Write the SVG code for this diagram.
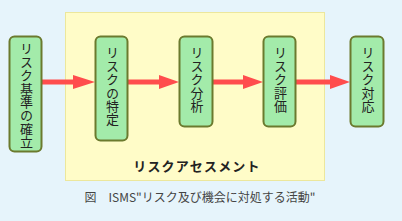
<svg xmlns="http://www.w3.org/2000/svg" width="402" height="221" viewBox="0 0 402 221">
<defs>
<style>
.node rect{fill:#a3ebaa;stroke:#6b7a2e;stroke-width:2}
.node text{font-family:"Noto Sans CJK JP","Noto Sans",sans-serif;font-size:13px;fill:#222;writing-mode:vertical-rl;text-anchor:start;letter-spacing:0.4px}
.conn line{stroke:#ff4d4d;stroke-width:5}
.conn polygon{fill:#ff4d4d}
</style>
</defs>
<rect x="0" y="0" width="402" height="221" fill="#e6f4fb"/>
<g id="assessment">
<rect x="65.5" y="12.5" width="259" height="168" fill="#fffcc8" stroke="#ece79c" stroke-width="1"/>
<text x="197" y="171" font-family="'Noto Sans CJK JP','Noto Sans',sans-serif" font-size="13" font-weight="bold" fill="#222" text-anchor="middle" letter-spacing="1.2">リスクアセスメント</text>
</g>
<g id="connectors" class="conn">
<line x1="42" y1="82" x2="75" y2="82"/><polygon points="73,75 95,82 73,89"/>
<line x1="128" y1="82" x2="161" y2="82"/><polygon points="159,75 179,82 159,89"/>
<line x1="213" y1="82" x2="245" y2="82"/><polygon points="243,75 263,82 243,89"/>
<line x1="296" y1="82" x2="332" y2="82"/><polygon points="330,75 350,82 330,89"/>
</g>
<g id="n1" class="node"><rect x="9.5" y="36.5" width="32" height="115" rx="5"/><text x="26.5" y="42">リスク基準の確立</text></g>
<g id="n2" class="node"><rect x="95.5" y="36.5" width="32" height="104" rx="5"/><text x="112.5" y="46">リスクの特定</text></g>
<g id="n3" class="node"><rect x="179.5" y="36.5" width="33" height="90" rx="5"/><text x="197" y="46">リスク分析</text></g>
<g id="n4" class="node"><rect x="263.5" y="36.5" width="32" height="90" rx="5"/><text x="280.5" y="46">リスク評価</text></g>
<g id="n5" class="node"><rect x="350.5" y="36.5" width="33" height="90" rx="5"/><text x="368" y="46">リスク対応</text></g>
<g id="caption">
<text x="200" y="202" font-family="'Noto Sans CJK JP','Noto Sans',sans-serif" font-size="12" fill="#444" text-anchor="middle">図　ISMS&quot;リスク及び機会に対処する活動&quot;</text>
</g>
</svg>
